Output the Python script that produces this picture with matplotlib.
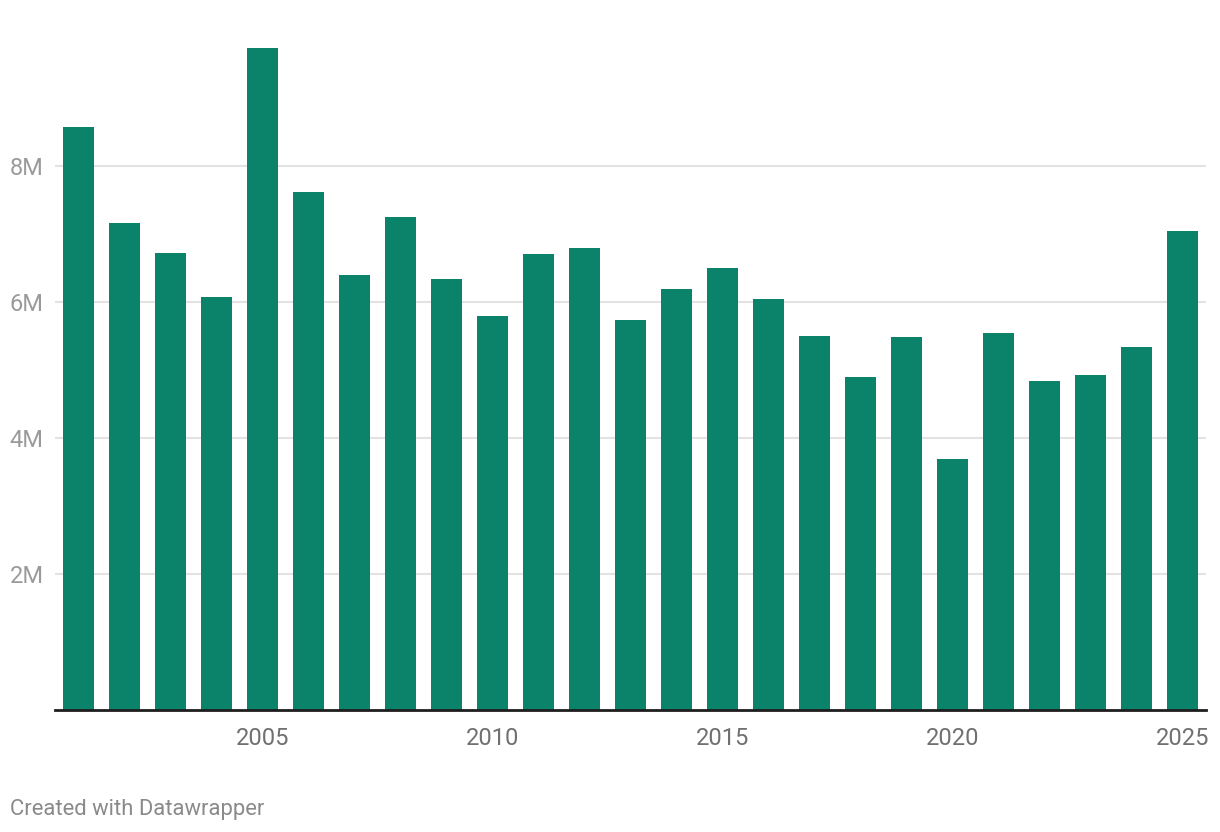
import matplotlib
matplotlib.use("Agg")
import matplotlib.pyplot as plt
from matplotlib.ticker import FuncFormatter

years = list(range(2001, 2026))
values_m = [8.57, 7.16, 6.72, 6.07, 9.74, 7.62, 6.40, 7.25, 6.34, 5.79,
            6.71, 6.79, 5.74, 6.19, 6.50, 6.04, 5.50, 4.90, 5.49, 3.69,
            5.54, 4.84, 4.93, 5.34, 7.04]
xtick_years = [2005, 2010, 2015, 2020, 2025]
ytick_vals = [2e6, 4e6, 6e6, 8e6]

plt.rcParams['font.family'] = ['Roboto', 'DejaVu Sans']

W, H = 1220, 832
fig = plt.figure(figsize=(W / 100, H / 100), dpi=100)
ax = fig.add_axes([55 / W, (H - 710) / H, (1206 - 55) / W, (710 - 30) / H])

vals = [v * 1e6 for v in values_m]
ax.bar(years, vals, width=31 / 46, color='#0b836a', zorder=3)

ax.set_xlim(2000.5, 2025.5)
ax.set_ylim(0, 10e6)

ax.set_yticks(ytick_vals)
ax.yaxis.set_major_formatter(FuncFormatter(lambda v, p: f"{int(v / 1e6)}M"))
ax.set_xticks(xtick_years)
ax.set_xticklabels([str(y) for y in xtick_years])

ax.grid(axis='y', color='#e3e3e3', linewidth=1.5, zorder=0)
for s in ['top', 'right', 'left']:
    ax.spines[s].set_visible(False)
ax.spines['bottom'].set_color('#1e1e1e')
ax.spines['bottom'].set_linewidth(2)
ax.spines['bottom'].set_zorder(4)

ax.tick_params(axis='y', length=0, pad=8, labelsize=17, labelcolor='#9a9a9a')
ax.tick_params(axis='x', length=0, pad=12, labelsize=17, labelcolor='#707070')

fig.text(10 / W, 1 - 809 / H, "Created with Datawrapper", fontsize=15.8,
         color='#8a8a8a', ha='left', va='center')

fig.savefig("out.png", dpi=100)
